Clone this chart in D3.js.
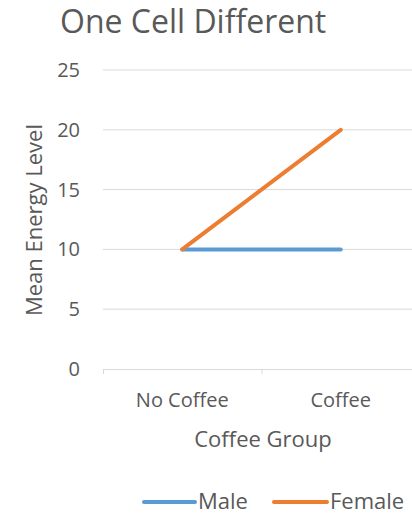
<!DOCTYPE html>
<html><head><meta charset="utf-8">
<script src="https://cdn.jsdelivr.net/npm/d3@7"></script>
<style>html,body{margin:0;padding:0;background:#fff;overflow:hidden}</style>
</head><body>
<svg id="c" width="412" height="514"></svg>
<script>
const categories = ["No Coffee", "Coffee"];
const seriesNames = ["Male", "Female"];
const maleValues = [10, 10];
const femaleValues = [10, 20];
const yTicks = [0, 5, 10, 15, 20, 25];
const colors = ["#5B9BD5", "#ED7D31"];
const font = "'Open Sans', Calibri, sans-serif";
const textColor = "#595959";

const svg = d3.select("#c");
const x = d3.scaleBand().domain(categories).range([103, 420]);
const y = d3.scaleLinear().domain([0, 25]).range([369, 70]);

svg.append("text").attr("x", 60).attr("y", 33).attr("font-family", font)
  .attr("font-size", 32).attr("fill", textColor).text("One Cell Different");

// gridlines
svg.append("g").selectAll("line").data(yTicks.filter(d => d > 0)).join("line")
  .attr("x1", 103).attr("x2", 420).attr("y1", d => y(d)).attr("y2", d => y(d))
  .attr("stroke", "#D9D9D9").attr("stroke-width", 1);

// y labels
svg.append("g").selectAll("text").data(yTicks).join("text")
  .attr("x", 80).attr("y", d => y(d) + 7).attr("text-anchor", "end")
  .attr("font-family", font).attr("font-size", 20).attr("fill", textColor).text(d => d);

// x axis
const xa = svg.append("g").attr("transform", "translate(0,369)")
  .call(d3.axisBottom(x).tickSize(0).tickPadding(22));
xa.select(".domain").attr("stroke", "#D9D9D9");
xa.selectAll("text").attr("font-family", font).attr("font-size", 20).attr("fill", textColor)
  .attr("dy", null).attr("y", 38);
const bounds = [103, 103 + x.bandwidth(), 420];
xa.selectAll(".sep").data(bounds).join("line").attr("class", "sep")
  .attr("x1", d => d + 0.5).attr("x2", d => d + 0.5).attr("y1", 0).attr("y2", 5)
  .attr("stroke", "#D9D9D9");

// axis titles
svg.append("text").attr("transform", "translate(42,220) rotate(-90)").attr("text-anchor", "middle")
  .attr("font-family", font).attr("font-size", 22).attr("fill", textColor).text("Mean Energy Level");
svg.append("text").attr("x", 263).attr("y", 447).attr("text-anchor", "middle")
  .attr("font-family", font).attr("font-size", 22).attr("fill", textColor).text("Coffee Group");

// lines
const line = d3.line().x((d, i) => x(categories[i]) + x.bandwidth() / 2).y(d => y(d));
[maleValues, femaleValues].forEach((vals, k) => {
  svg.append("path").attr("d", line(vals)).attr("fill", "none")
    .attr("stroke", colors[k]).attr("stroke-width", 4).attr("stroke-linecap", "round");
});

// legend
const leg = [{x: 144, w: 51}, {x: 274, w: 53}];
seriesNames.forEach((n, k) => {
  svg.append("line").attr("x1", leg[k].x).attr("x2", leg[k].x + leg[k].w).attr("y1", 502).attr("y2", 502)
    .attr("stroke", colors[k]).attr("stroke-width", 4).attr("stroke-linecap", "round");
  svg.append("text").attr("x", leg[k].x + leg[k].w + 3).attr("y", 509)
    .attr("font-family", font).attr("font-size", 22).attr("fill", textColor).text(n);
});
</script>
</body></html>
